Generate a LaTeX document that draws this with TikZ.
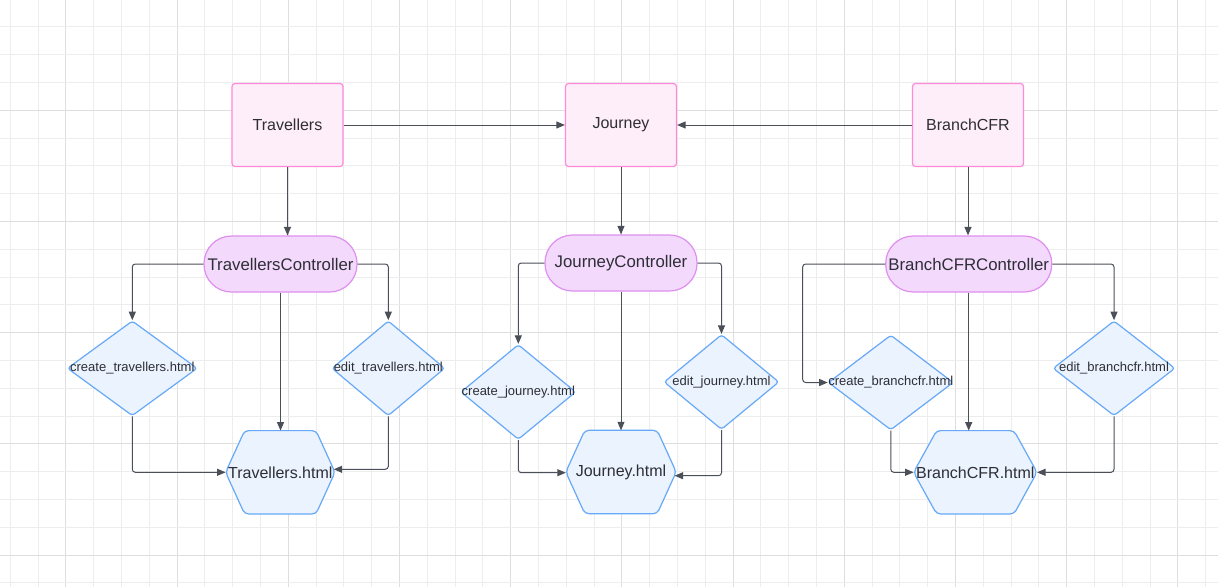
\documentclass[tikz,border=0pt]{standalone}
\usepackage{fontspec}
\setmainfont{Liberation Sans}
\usetikzlibrary{arrows.meta,shapes.geometric,calc}

\definecolor{gridminor}{HTML}{EDEDED}
\definecolor{gridmajor}{HTML}{DEDEDE}
\definecolor{entfill}{HTML}{FEEEF9}
\definecolor{entdraw}{HTML}{FF8AD8}
\definecolor{ctlfill}{HTML}{F3D9FB}
\definecolor{ctldraw}{HTML}{DF8FF0}
\definecolor{pagefill}{HTML}{EAF3FE}
\definecolor{pagedraw}{HTML}{67A9F7}
\definecolor{linkc}{HTML}{4B5058}
\definecolor{textc}{HTML}{2E2E36}

\pgfdeclarelayer{grid}
\pgfdeclarelayer{shapes}
\pgfsetlayers{grid,shapes,main}

% hexagon outline around an invisible rectangular node
\newcommand\hexoutline[2]{%
  \draw[hexshape] (#1.west) -- ([xshift=#2]#1.north west) -- ([xshift=-#2]#1.north east)
    -- (#1.east) -- ([xshift=-#2]#1.south east) -- ([xshift=#2]#1.south west) -- cycle;}

\begin{document}
\begin{tikzpicture}[x=1pt,y=-1pt,
  lbl/.style={text=textc,font=\fontsize{16}{19}\selectfont},
  entity/.style={lbl,draw=entdraw,fill=entfill,line width=1.2pt,rounded corners=3,
    minimum width=111,minimum height=83,inner sep=0},
  ctrl/.style={text=textc,font=\fontsize{16.8}{19}\selectfont,draw=ctldraw,fill=ctlfill,
    line width=1.2pt,rounded corners=27.5,minimum height=56,inner sep=0},
  page/.style={text=textc,font=\fontsize{13}{15}\selectfont,shape=diamond,draw=pagedraw,
    fill=pagefill,line width=1.2pt,rounded corners=3,inner sep=0,minimum height=95},
  hexbox/.style={lbl,inner sep=0,minimum height=83},
  hexshape/.style={draw=pagedraw,fill=pagefill,line width=1.2pt,rounded corners=4},
  link/.style={draw=linkc,line width=1pt,rounded corners=3,
    -{Triangle[length=8.5pt,width=7pt]}},
  gridline/.style={line width=0.8pt}]

\useasboundingbox (0,0) rectangle (1218,587);

% background grid: every fourth line is darker
\begin{pgfonlayer}{grid}
  \fill[white] (0,0) rectangle (1218,587);
  \foreach \i in {0,...,43} {%
    \pgfmathtruncatemacro\m{mod(\i,4)}%
    \ifnum\m=2 \def\gc{gridmajor}\else\def\gc{gridminor}\fi
    \draw[gridline,draw=\gc] ({10.2+27.8*\i},0) -- ++(0,587);}
  \foreach \i in {0,...,21} {%
    \pgfmathtruncatemacro\m{mod(\i,4)}%
    \ifnum\m=3 \def\gc{gridmajor}\else\def\gc{gridminor}\fi
    \draw[gridline,draw=\gc] (0,{26.8+27.8*\i}) -- ++(1218,0);}
\end{pgfonlayer}

% models
\node[entity] (t) at (287.5,125) {Travellers};
\node[entity] (j) at (621,125) {Journey};
\node[entity] (b) at (968,125) {BranchCFR};

% controllers
\node[ctrl,minimum width=153] (tc) at (280.5,264) {TravellersController};
\node[ctrl,minimum width=152] (jc) at (621,263) {JourneyController};
\node[ctrl,minimum width=166] (bc) at (968.7,264) {BranchCFRController};

% form templates
\node[page,minimum width=130] (ct) at (132.3,368.3) {\makebox[0pt]{create\_travellers.html}};
\node[page,minimum width=113] (et) at (388.3,368.3) {\makebox[0pt]{edit\_travellers.html}};
\node[page,minimum width=115] (cj) at (518.3,392) {\makebox[0pt]{create\_journey.html}};
\node[page,minimum width=115] (ej) at (721.5,382) {\makebox[0pt]{edit\_journey.html}};
\node[page,minimum width=125] (cb) at (890.8,382.5) {\makebox[0pt]{create\_branchcfr.html}};
\node[page,minimum width=122] (eb) at (1114,368.3) {\makebox[0pt]{edit\_branchcfr.html}};

% list templates
\node[hexbox,minimum width=109] (th) at (280.3,472.3) {Travellers.html};
\node[hexbox,minimum width=110] (jh) at (621,472) {Journey.html};
\node[hexbox,minimum width=123] (bh) at (975.3,472.3) {BranchCFR.html};
\begin{pgfonlayer}{shapes}
  \hexoutline{th}{19pt}
  \hexoutline{jh}{19pt}
  \hexoutline{bh}{23pt}
\end{pgfonlayer}

% model links
\draw[link] (t.east) -- (j.west);
\draw[link] (b.west) -- (j.east);
\draw[link] (t.south) -- (t.south |- tc.north);
\draw[link] (j.south) -- (j.south |- jc.north);
\draw[link] (b.south) -- (b.south |- bc.north);

% Travellers column
\draw[link] (tc.west) -| (ct.north);
\draw[link] (tc.east) -| (et.north);
\draw[link] (tc.south) -- (tc.south |- th.north);
\draw[link] (ct.south) |- (th.west);
\draw[link] (et.south) |- ([xshift=-1.3pt,yshift=3pt]th.east);

% Journey column
\draw[link] (jc.west) -| (cj.north);
\draw[link] (jc.east) -| (ej.north);
\draw[link] (jc.south) -- (jc.south |- jh.north);
\draw[link] (cj.south) |- ([yshift=-0.7pt]jh.west);
\draw[link] (ej.south) |- ([xshift=-1.6pt,yshift=-3.7pt]jh.east);

% BranchCFR column
\draw[link] (bc.west) -| ([xshift=-25pt]cb.west) -- (cb.west);
\draw[link] (bc.east) -| (eb.north);
\draw[link] (bc.south) -- (bc.south |- bh.north);
\draw[link] (cb.south) |- (bh.west);
\draw[link] (eb.south) |- (bh.east);
\end{tikzpicture}
\end{document}
